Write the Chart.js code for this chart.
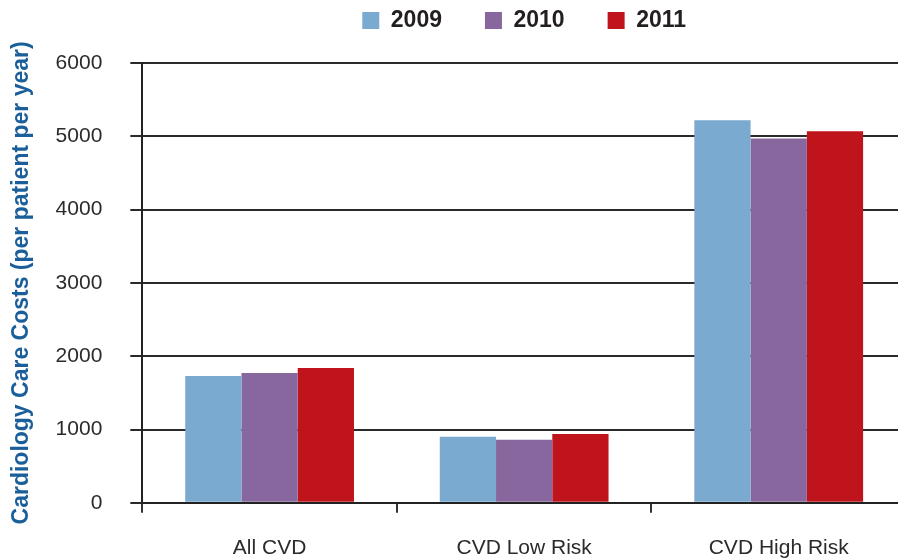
<!DOCTYPE html>
<html>
<head>
<meta charset="utf-8">
<script src="https://cdn.jsdelivr.net/npm/chart.js@4/dist/chart.umd.min.js"></script>
<style>
  html, body { margin: 0; padding: 0; background: #fff; overflow: hidden; width: 898px; height: 560px; }
  /* canvas is a bit larger than the page: the plot runs off the right edge like the original */
  #wrap { width: 906px; height: 618px; margin-top: -34px; }
</style>
</head>
<body>
<div id="wrap"><canvas id="costChart"></canvas></div>
<script>
// Chart data
const categories = ['All CVD', 'CVD Low Risk', 'CVD High Risk'];
const years = ['2009', '2010', '2011'];
const costs2009 = [1730, 900, 5220];
const costs2010 = [1770, 860, 4970];
const costs2011 = [1840, 940, 5070];
const yTicks = [0, 1000, 2000, 3000, 4000, 5000, 6000];

const colors = ['#7aaacf', '#87679e', '#c0141c'];
const seriesValues = [costs2009, costs2010, costs2011];
const FONT = 'Liberation Sans, Arial, sans-serif';

// extra room between the legend and the plot
const legendGap = {
    id: 'legendGap',
    beforeInit(chart) {
        const originalFit = chart.legend.fit;
        chart.legend.fit = function fit() {
            originalFit.bind(chart.legend)();
            this.height += 21;
        };
    }
};

const ctx = document.getElementById('costChart');
new Chart(ctx.getContext('2d'), {
    type: 'bar',
    data: {
        labels: categories,
        datasets: years.map((y, i) => ({
            label: y,
            data: seriesValues[i],
            backgroundColor: colors[i],
            borderWidth: 0,
            categoryPercentage: 0.663,
            barPercentage: 1.0
        }))
    },
    plugins: [legendGap],
    options: {
        responsive: true,
        maintainAspectRatio: false,
        animation: false,
        layout: {
            padding: { left: 8, right: 0, top: 0, bottom: 0 }
        },
        plugins: {
            tooltip: { enabled: false },
            legend: {
                position: 'top',
                fullSize: false,
                labels: {
                    boxWidth: 17,
                    boxHeight: 17,
                    padding: 43,
                    color: '#231f20',
                    font: { family: FONT, size: 23, weight: 'bold' }
                }
            }
        },
        scales: {
            y: {
                min: 0,
                max: 6000,
                afterBuildTicks: axis => { axis.ticks = yTicks.map(v => ({ value: v })); },
                ticks: {
                    padding: 28,
                    color: '#2b2b2b',
                    font: { family: FONT, size: 21 },
                    callback: v => String(v)
                },
                grid: {
                    color: '#2a2a2a',
                    lineWidth: 2,
                    tickLength: 12
                },
                border: { display: true, color: '#222', width: 2 },
                title: {
                    display: true,
                    text: 'Cardiology Care Costs (per patient per year)',
                    color: '#1a5e9a',
                    padding: { top: 0, bottom: -8 },
                    font: { family: FONT, size: 23, weight: 'bold' }
                }
            },
            x: {
                ticks: {
                    padding: 23,
                    color: '#2b2b2b',
                    font: { family: FONT, size: 21 }
                },
                grid: {
                    drawOnChartArea: false,
                    offset: true,
                    color: '#333',
                    lineWidth: 2,
                    tickLength: 10
                },
                border: { display: true, color: '#222', width: 2 }
            }
        }
    }
});
</script>
</body>
</html>
